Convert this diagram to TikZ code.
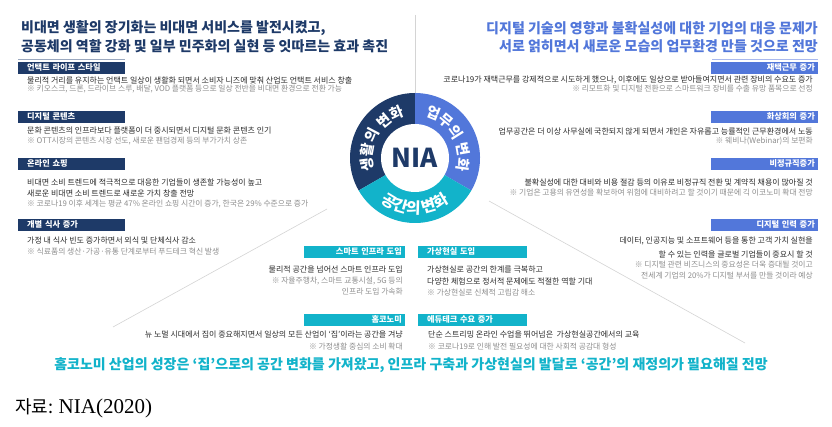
\documentclass[tikz,border=0pt]{standalone}
\usepackage{fontspec}
\setmainfont{Noto Sans CJK KR}
\newfontfamily\serifnum{Liberation Serif}
\usetikzlibrary{decorations.text}
\definecolor{navy}{HTML}{1E3A68}
\definecolor{royal}{HTML}{5277DA}
\definecolor{tealc}{HTML}{12B3CA}
\definecolor{bodyc}{HTML}{2B2B2B}
\definecolor{notec}{HTML}{8E8E8E}
\definecolor{rayc}{HTML}{D4D4D4}
\definecolor{ulL}{HTML}{9AA8BF}
\definecolor{ulR}{HTML}{A9B9EE}
\newcommand\ringfont{\bfseries\fontsize{14.5}{14.5}\selectfont\color{white}}
\newcommand\ringfontb{\bfseries\fontsize{15.5}{15.5}\selectfont\color{white}}
\tikzset{
 body/.style={font=\fontsize{8}{9}\selectfont, text=bodyc, inner sep=0pt},
 note/.style={font=\fontsize{7.8}{9}\selectfont, text=notec, inner sep=0pt},
 headbox/.style={rectangle, text=white, font=\bfseries\fontsize{8.2}{9}\selectfont, minimum height=12pt, inner ysep=0pt, text height=6.2pt, text depth=1.3pt},
 lhead/.style={headbox, fill=navy, inner xsep=9pt, text width=89pt, align=left, anchor=west},
 rhead/.style={headbox, fill=royal, inner xsep=3pt, text width=100.6pt, align=right, anchor=east},
 chl/.style={headbox, fill=tealc, inner xsep=3pt, text width=95pt, align=right, anchor=east},
 chr/.style={headbox, fill=tealc, inner xsep=9pt, text width=91pt, align=left, anchor=west},
 titletext/.style={font=\bfseries\fontsize{14}{15}\selectfont, inner sep=0pt},
 ray/.style={draw=rayc, line width=0.6pt},
 ringlabel/.style={decorate, decoration={text along path, text align=center, text={#1}}},
}
\begin{document}
\begin{tikzpicture}[x=1pt,y=-1pt]
\useasboundingbox (0,0) rectangle (832,427);
\fill[white] (0,0) rectangle (832,427);

% ring node and rays
\node[circle, minimum size=130pt, inner sep=0pt] (ring) at (415,158) {};
\coordinate (topend) at (415,15);
\coordinate (la) at (327,209);
\coordinate (lb) at (113,327);
\coordinate (ra) at (489,201);
\coordinate (rb) at (745,343);
\draw[ray] (topend) -- (ring.north);
\draw[ray] (la) -- (lb);
\draw[ray] (ra) -- (rb);

\begin{scope}[shift={(415,158)}, y=1pt]
 \fill[navy] (0,0) -- (90:65) arc[start angle=90, end angle=210, radius=65] -- cycle;
 \fill[royal] (0,0) -- (-30:65) arc[start angle=-30, end angle=90, radius=65] -- cycle;
 \fill[tealc] (0,0) -- (210:65) arc[start angle=210, end angle=330, radius=65] -- cycle;
 \fill[white] (0,0) circle[radius=34];
 \path[ringlabel={|\ringfont|생활의 변화}] (215:43) arc[start angle=215, end angle=85, radius=43];
 \path[ringlabel={|\ringfont|업무의 변화}] (95:43) arc[start angle=95, end angle=-35, radius=43];
 \path[ringlabel={|\ringfontb|공간의 변화}] (200:56) arc[start angle=200, end angle=340, radius=56];
\end{scope}
\node[font=\bfseries\fontsize{26}{26}\selectfont, text=navy, inner sep=0pt] (nia) at (415,158) {NIA};

% titles
\node[titletext, text=navy, anchor=west] (tl1) at (21,28.5) {비대면 생활의 장기화는 비대면 서비스를 발전시켰고,};
\node[titletext, text=navy, anchor=west] (tl2) at (21,46.5) {공동체의 역할 강화 및 일부 민주화의 실현 등 잇따르는 효과 촉진};
\node[titletext, text=royal, anchor=east] (tr1) at (818,28.5) {디지털 기술의 영향과 불확실성에 대한 기업의 대응 문제가};
\node[titletext, text=royal, anchor=east] (tr2) at (818,46) {서로 얽히면서 새로운 모습의 업무환경 만들 것으로 전망};
\coordinate (ulLa) at (18,59); \coordinate (ulLb) at (125,59);
\coordinate (ulRa) at (712,59); \coordinate (ulRb) at (818,59);
\draw[ulL, line width=0.8pt] (ulLa) -- (ulLb);
\draw[ulR, line width=0.8pt] (ulRa) -- (ulRb);

% left column
\node[lhead] (lh1) at (18,68.5) {언택트 라이프 스타일};
\node[body, anchor=west] (l1a) at (27,80) {물리적 거리를 유지하는 언택트 일상이 생활화 되면서 소비자 니즈에 맞춰 산업도 언택트 서비스 창출};
\node[note, anchor=west] (l1b) at (27,89) {※ 키오스크, 드론, 드라이브 스루, 배달, VOD 플랫폼 등으로 일상 전반을 비대면 환경으로 전환 가능};
\node[lhead] (lh2) at (18,117.5) {디지털 콘텐츠};
\node[body, anchor=west] (l2a) at (27,131) {문화 콘텐츠의 인프라보다 플랫폼이 더 중시되면서 디지털 문화 콘텐츠 인기};
\node[note, anchor=west] (l2b) at (27,141.5) {※ OTT시장의 콘텐츠 시장 선도, 새로운 팬덤경제 등의 부가가치 상존};
\node[lhead] (lh3) at (18,164.5) {온라인 쇼핑};
\node[body, anchor=west] (l3a) at (27,182) {비대면 소비 트렌드에 적극적으로 대응한 기업들이 생존할 가능성이 높고};
\node[body, anchor=west] (l3b) at (27,193) {새로운 비대면 소비 트렌드로 새로운 가치 창출 전망};
\node[note, anchor=west] (l3c) at (27,204) {※ 코로나19 이후 세계는 평균 47\% 온라인 쇼핑 시간이 증가, 한국은 29\% 수준으로 증가};
\node[lhead] (lh4) at (18,225.5) {개별 식사 증가};
\node[body, anchor=west] (l4a) at (27,241) {가정 내 식사 빈도 증가하면서 외식 및 단체식사 감소};
\node[note, anchor=west] (l4b) at (27,252) {※ 식료품의 생산·가공·유통 단계로부터 푸드테크 혁신 발생};

% right column
\node[rhead] (rh1) at (818,68) {재택근무 증가};
\node[body, anchor=east] (r1a) at (813,80) {코로나19가 재택근무를 강제적으로 시도하게 했으나, 이후에도 일상으로 받아들여지면서 관련 장비의 수요도 증가};
\node[note, anchor=east] (r1b) at (813,89) {※ 리모트화 및 디지털 전환으로 스마트워크 장비를 수출 유망 품목으로 선정};
\node[rhead] (rh2) at (818,117.5) {화상회의 증가};
\node[body, anchor=east] (r2a) at (813,131) {업무공간은 더 이상 사무실에 국한되지 않게 되면서 개인은 자유롭고 능률적인 근무환경에서 노동};
\node[note, anchor=east] (r2b) at (813,141.5) {※ 웨비나(Webinar)의 보편화};
\node[rhead] (rh3) at (818,164.5) {비정규직증가};
\node[body, anchor=east] (r3a) at (813,182) {불확실성에 대한 대비와 비용 절감 등의 이유로 비정규직 전환 및 계약직 채용이 많아질 것};
\node[note, anchor=east] (r3b) at (813,192.5) {※ 기업은 고용의 유연성을 확보하여 위험에 대비하려고 할 것이기 때문에 긱 이코노미 확대 전망};
\node[rhead] (rh4) at (818,225) {디지털 인력 증가};
\node[body, anchor=east] (r4a) at (813,241) {데이터, 인공지능 및 소프트웨어 등을 통한 고객 가치 실현을};
\node[body, anchor=east] (r4b) at (813,254) {할 수 있는 인력을 글로벌 기업들이 중요시 할 것};
\node[note, anchor=east] (r4c) at (813,265) {※ 디지털 관련 비즈니스의 중요성은 더욱 증대될 것이고};
\node[note, anchor=east] (r4d) at (813,275.5) {전세계 기업의 20\%가 디지털 부서를 만들 것이라 예상};

% center column
\node[chl] (ch1) at (405,252.5) {스마트 인프라 도입};
\node[body, anchor=east] (c1a) at (403,270) {물리적 공간을 넘어선 스마트 인프라 도입};
\node[note, anchor=east] (c1b) at (403,281) {※ 자율주행차, 스마트 교통시설, 5G 등의};
\node[note, anchor=east] (c1c) at (403,291.5) {인프라 도입 가속화};
\node[chr] (ch2) at (418,252.5) {가상현실 도입};
\node[body, anchor=west] (c2a) at (427,270) {가상현실로 공간의 한계를 극복하고};
\node[body, anchor=west] (c2b) at (427,281.5) {다양한 체험으로 정서적 문제에도 적절한 역할 기대};
\node[note, anchor=west] (c2c) at (427,292.5) {※ 가상현실로 신체적 고립감 해소};
\node[chl] (ch3) at (405,320) {홈코노미};
\node[body, anchor=east] (c3a) at (403,335) {뉴 노멀 시대에서 집이 중요해지면서 일상의 모든 산업이 ‘집’이라는 공간을 겨냥};
\node[note, anchor=east] (c3b) at (403,346.5) {※ 가정생활 중심의 소비 확대};
\node[chr] (ch4) at (418,320) {에듀테크 수요 증가};
\node[body, anchor=west] (c4a) at (428,335) {단순 스트리밍 온라인 수업을 뛰어넘은 \ 가상현실공간에서의 교육};
\node[note, anchor=west] (c4b) at (428,346.5) {※ 코로나19로 인해 발전 필요성에 대한 사회적 공감대 형성};

% headline and source
\node[titletext, text=tealc] (head) at (411,365) {홈코노미 산업의 성장은 ‘집’으로의 공간 변화를 가져왔고, 인프라 구축과 가상현실의 발달로 ‘공간’의 재정의가 필요해질 전망};
\node[anchor=west, inner sep=0pt] (src) at (15,408) {\fontsize{18}{18}\selectfont 자료: \serifnum\fontsize{21}{21}\selectfont NIA(2020)};
\end{tikzpicture}
\end{document}
